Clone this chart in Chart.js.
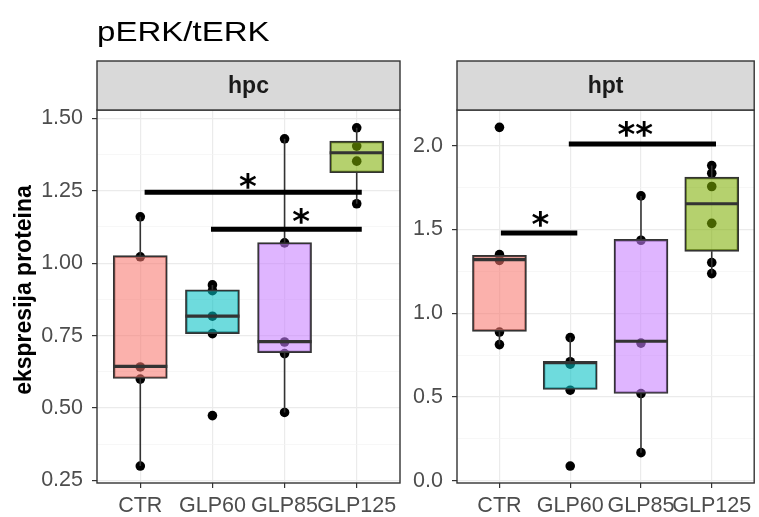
<!DOCTYPE html>
<html>
<head>
<meta charset="utf-8">
<script src="https://cdn.jsdelivr.net/npm/chart.js@4.4.1/dist/chart.umd.min.js"></script>
<style>
  body { margin: 0; background: #fff; width: 759px; height: 517px; position: relative; overflow: hidden; }
  canvas { position: absolute; top: 0; }
  #hpc { left: 0; }
  #hpt { left: 400px; }
</style>
</head>
<body>
<canvas id="hpc" width="405" height="517"></canvas>
<canvas id="hpt" width="359" height="517"></canvas>
<script>
const categories = ['CTR', 'GLP60', 'GLP85', 'GLP125'];

// hpc panel - box stats
const hpcLow    = [0.300, 0.757, 0.485, 1.205];
const hpcQ1     = [0.602, 0.757, 0.691, 1.312];
const hpcMedian = [0.644, 0.817, 0.729, 1.381];
const hpcQ3     = [1.026, 0.908, 1.071, 1.421];
const hpcHigh   = [1.160, 0.925, 1.429, 1.467];
const hpcPoints = [
  [0.300, 0.600, 0.642, 1.022, 1.160],
  [0.474, 0.757, 0.817, 0.905, 0.925],
  [0.485, 0.688, 0.728, 1.070, 1.429],
  [1.205, 1.352, 1.404, 1.467]
];
const hpcSigFrom = [0.06, 0.98];
const hpcSigTo   = [3.07, 3.07];
const hpcSigY    = [1.245, 1.117];
const hpcStarX   = [1.49, 2.23];
const hpcStarY   = [1.280, 1.159];
const hpcStars   = ['*', '*'];
const hpcTicks   = [0.25, 0.50, 0.75, 1.00, 1.25, 1.50];

// hpt panel
const hptLow    = [0.812, 0.544, 0.167, 1.236];
const hptQ1     = [0.891, 0.544, 0.520, 1.369];
const hptMedian = [1.319, 0.705, 0.832, 1.653];
const hptQ3     = [1.345, 0.712, 1.440, 1.812];
const hptHigh   = [1.345, 0.854, 1.700, 1.881];
const hptPoints = [
  [0.812, 0.887, 1.315, 1.349, 2.109],
  [0.087, 0.540, 0.695, 0.710, 0.854],
  [0.167, 0.520, 0.821, 1.435, 1.700],
  [1.236, 1.302, 1.536, 1.756, 1.835, 1.881]
];
const hptSigFrom = [0.02, 0.98];
const hptSigTo   = [1.10, 3.06];
const hptSigY    = [1.478, 2.010];
const hptStarX   = [0.58, 1.92];
const hptStarY   = [1.554, 2.094];
const hptStars   = ['*', '**'];
const hptTicks   = [0.0, 0.5, 1.0, 1.5, 2.0];

const fills = ['rgba(248,118,109,0.57)', 'rgba(0,191,196,0.57)', 'rgba(199,124,255,0.57)', 'rgba(124,174,0,0.57)'];

Chart.defaults.font.family = "'Liberation Sans', Arial, sans-serif";
Chart.defaults.animation = false;

const panelPlugin = {
  id: 'panel',
  afterDatasetsDraw(chart, args, opts) {
    const { ctx, chartArea: a, scales: { x, y } } = chart;
    ctx.save();
    // significance stars
    ctx.font = 'bold 34px "DejaVu Sans"';
    ctx.fillStyle = '#000';
    ctx.textAlign = 'center';
    ctx.textBaseline = 'middle';
    opts.starText.forEach((t, i) => {
      ctx.fillText(t, x.getPixelForValue(opts.starX[i]), y.getPixelForValue(opts.starY[i]) + 7);
    });
    // panel border
    ctx.strokeStyle = '#333333';
    ctx.lineWidth = 1.4;
    ctx.strokeRect(a.left, a.top, a.right - a.left, a.bottom - a.top);
    ctx.restore();
  },
  afterDraw(chart, args, opts) {
    const { ctx, chartArea: a } = chart;
    ctx.save();
    // facet strip
    ctx.fillStyle = '#D9D9D9';
    ctx.fillRect(a.left, 61, a.right - a.left, a.top - 61);
    ctx.strokeStyle = '#333333';
    ctx.lineWidth = 1.4;
    ctx.strokeRect(a.left, 61, a.right - a.left, a.top - 61);
    ctx.fillStyle = '#1A1A1A';
    ctx.font = "bold 23px 'Liberation Sans', Arial, sans-serif";
    ctx.textAlign = 'center';
    ctx.textBaseline = 'middle';
    ctx.fillText(opts.strip, (a.left + a.right) / 2, (61 + a.top) / 2 + 1);
    if (opts.title) {
      ctx.save();
      ctx.fillStyle = '#000';
      ctx.font = "28px 'Liberation Sans', Arial, sans-serif";
      ctx.textAlign = 'left';
      ctx.textBaseline = 'alphabetic';
      ctx.translate(a.left, 41);
      ctx.scale(1.18, 1);
      ctx.fillText(opts.title, 0, 0);
      ctx.restore();
    }
    if (opts.yTitle) {
      ctx.save();
      ctx.fillStyle = '#000';
      ctx.font = "bold 23px 'Liberation Sans', Arial, sans-serif";
      ctx.textAlign = 'center';
      ctx.textBaseline = 'middle';
      ctx.translate(25, 290);
      ctx.rotate(-Math.PI / 2);
      ctx.fillText(opts.yTitle, 0, 0);
      ctx.restore();
    }
    ctx.restore();
  }
};

function makePanel(id, d) {
  const boxes = categories.map((c, i) => ({ x: i, y: [d.q1[i], d.q3[i]] }));
  const whiskers = [];
  const medians = [];
  categories.forEach((c, i) => {
    whiskers.push({ x: i, y: d.low[i] }, { x: i, y: d.q1[i] }, { x: i, y: null },
                  { x: i, y: d.q3[i] }, { x: i, y: d.high[i] }, { x: i, y: null });
    medians.push({ x: i - 0.375, y: d.median[i] }, { x: i + 0.375, y: d.median[i] }, { x: i, y: null });
  });
  const pts = [];
  d.points.forEach((arr, i) => arr.forEach(v => pts.push({ x: i, y: v })));
  const sig = [];
  d.sigFrom.forEach((f, k) => {
    sig.push({ x: f, y: d.sigY[k] }, { x: d.sigTo[k], y: d.sigY[k] }, { x: f, y: null });
  });

  const major = d.ticks;
  const allTicks = [];
  major.forEach((v, i) => {
    allTicks.push(v);
    if (i < major.length - 1) allTicks.push((v + major[i + 1]) / 2);
  });
  allTicks.push(major[0] - (major[1] - major[0]) / 2);
  const isMajor = v => major.some(m => Math.abs(m - v) < 1e-9);

  return new Chart(document.getElementById(id), {
    type: 'bar',
    data: {
      datasets: [
        { type: 'line', data: sig, borderColor: '#000', borderWidth: 5, pointRadius: 0, spanGaps: false, order: 0 },
        { type: 'line', data: medians, borderColor: '#333333', borderWidth: 3.2, pointRadius: 0, spanGaps: false, order: 1 },
        { type: 'bar', data: boxes, backgroundColor: fills, borderColor: '#333333', borderWidth: 1.7,
          borderSkipped: false, barThickness: 54, order: 2 },
        { type: 'line', data: whiskers, borderColor: '#333333', borderWidth: 1.6, pointRadius: 0, spanGaps: false, order: 3 },
        { type: 'scatter', data: pts, backgroundColor: '#000', borderWidth: 0, pointRadius: 4.8, order: 4 }
      ]
    },
    options: {
      responsive: false,
      animation: false,
      layout: { padding: { top: 110, right: d.padRight, bottom: 0, left: 0 } },
      plugins: {
        legend: { display: false },
        tooltip: { enabled: false },
        panel: { strip: d.strip, title: d.title, yTitle: d.yTitle, starX: d.starX, starY: d.starY, starText: d.stars }
      },
      scales: {
        x: {
          type: 'linear', min: -0.6, max: 3.6, offset: false,
          afterBuildTicks: s => { s.ticks = categories.map((c, i) => ({ value: i })); },
          afterFit: s => { s.height = 34; },
          ticks: {
            autoSkip: false, maxRotation: 0, minRotation: 0, padding: 5,
            color: '#4D4D4D', font: { size: 21.5 },
            callback: v => categories[v]
          },
          grid: { offset: false, color: '#EBEBEB', lineWidth: 1.2, tickColor: '#333333', tickLength: 5, tickWidth: 1.2 },
          border: { display: false }
        },
        y: {
          type: 'linear', min: d.min, max: d.max,
          afterBuildTicks: s => { s.ticks = allTicks.filter(v => v >= d.min && v <= d.max).sort((a, b) => a - b).map(v => ({ value: v })); },
          afterFit: s => { s.width = d.axisWidth; },
          ticks: {
            autoSkip: false, padding: 9, color: '#4D4D4D', font: { size: 21.5 },
            callback: v => isMajor(v) ? v.toFixed(d.decimals) : ''
          },
          grid: {
            color: c => isMajor(c.tick.value) ? '#EBEBEB' : '#F4F4F4',
            lineWidth: c => isMajor(c.tick.value) ? 1.2 : 0.7,
            tickColor: c => isMajor(c.tick.value) ? '#333333' : 'rgba(0,0,0,0)',
            tickLength: 5, tickWidth: 1.2
          },
          border: { display: false },
          title: { display: false }
        }
      }
    },
    plugins: [panelPlugin]
  });
}

makePanel('hpc', {
  low: hpcLow, q1: hpcQ1, median: hpcMedian, q3: hpcQ3, high: hpcHigh, points: hpcPoints,
  sigFrom: hpcSigFrom, sigTo: hpcSigTo, sigY: hpcSigY,
  starX: hpcStarX, starY: hpcStarY, stars: hpcStars,
  ticks: hpcTicks, decimals: 2, min: 0.2415, max: 1.5285,
  axisWidth: 97, padRight: 5, strip: 'hpc', title: 'pERK/tERK', yTitle: 'ekspresija proteina'
});

makePanel('hpt', {
  low: hptLow, q1: hptQ1, median: hptMedian, q3: hptQ3, high: hptHigh, points: hptPoints,
  sigFrom: hptSigFrom, sigTo: hptSigTo, sigY: hptSigY,
  starX: hptStarX, starY: hptStarY, stars: hptStars,
  ticks: hptTicks, decimals: 1, min: -0.0141, max: 2.2127,
  axisWidth: 57, padRight: 1, strip: 'hpt', title: null, yTitle: null
});
</script>
</body>
</html>
